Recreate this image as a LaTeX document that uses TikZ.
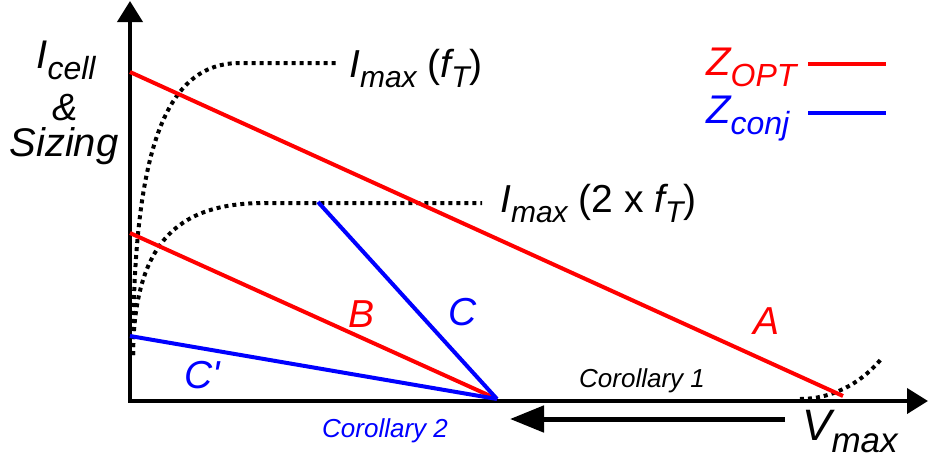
\documentclass[tikz,border=0pt]{standalone}
\usepackage{fontspec}
\setmainfont{Liberation Sans}
\usetikzlibrary{arrows.meta}
\definecolor{myred}{RGB}{255,0,0}
\definecolor{myblue}{RGB}{0,0,255}
\newcommand\fs[1]{\fontsize{#1}{#1}\selectfont}
\newcommand\lsub[2]{\raisebox{-0.28em}{\fs{#1}#2}}
\begin{document}
\begin{tikzpicture}[x=1pt,y=-1pt,
  axis/.style={line width=4pt,-{Triangle[width=25pt,length=21pt]}},
  redline/.style={myred,line width=4pt},
  blueline/.style={myblue,line width=4pt},
  dotline/.style={black,line width=4pt,dash pattern=on 4pt off 4pt},
  lbl/.style={inner sep=0pt,font=\itshape}]
\useasboundingbox (0,0) rectangle (930,459);
% axes
\coordinate (O) at (130,401);
\coordinate (Ytop) at (130,1);
\coordinate (Xend) at (928,401);
\coordinate (Xstart) at (128,401);
\draw[axis] (Xstart) -- (Xend);
\draw[axis] (O) -- (Ytop);
% dotted curves
\coordinate (d0) at (133,355);
\coordinate (d1) at (240,63);
\coordinate (d1e) at (336,63);
\coordinate (d2) at (265,203);
\coordinate (d2e) at (482,203);
\draw[dotline] (d0) .. controls (133,150) and (165,63) .. (d1) -- (d1e);
\draw[dotline] (d0) .. controls (134,235) and (185,203) .. (d2) -- (d2e);
\coordinate (r0) at (800,399);
\coordinate (r1) at (882,358);
\draw[dotline] (r0) .. controls (830,399) and (860,385) .. (r1);
% lines
\coordinate (A0) at (130,72);
\coordinate (A1) at (843,396);
\coordinate (B0) at (130,233);
\coordinate (P) at (497,399);
\coordinate (C0) at (318,202);
\coordinate (Cp0) at (130,336);
\draw[redline] (A0) -- (A1);
\draw[redline] (B0) -- (P);
\draw[blueline] (C0) -- (P);
\draw[blueline] (Cp0) -- (P);
% arrow Corollary
\coordinate (k0) at (785,419);
\coordinate (k1) at (510,419);
\draw[line width=5pt,-{Triangle[width=26pt,length=34pt]}] (k0) -- (k1);
% labels
\node[lbl,anchor=base,font=\itshape\fs{40}] (ylab1) at (66,68) {I\lsub{32}{cell}};
\node[lbl,anchor=base,font=\itshape\fs{38}] (ylab2) at (65,120) {\&};
\node[lbl,anchor=base,font=\itshape\fs{40}] (ylab3) at (64,156) {Sizing};
\node[lbl,anchor=base west,font=\fs{39}] (imax1) at (349,77) {\itshape I\lsub{30}{max}\upshape\ (\itshape f\lsub{30}{T}\upshape)};
\node[lbl,anchor=base west,font=\fs{39}] (imax2) at (500,212) {\itshape I\lsub{30}{max}\upshape\ (2 x \itshape f\lsub{30}{T}\upshape)};
\node[lbl,anchor=base west,text=myred,font=\itshape\fs{40}] (zopt) at (706,75) {Z\lsub{32}{OPT}};
\node[lbl,anchor=base west,text=myblue,font=\itshape\fs{40}] (zconj) at (706,123) {Z\lsub{32}{conj}};
\coordinate (lr0) at (808,64);
\coordinate (lr1) at (886,64);
\coordinate (lb0) at (808,113);
\coordinate (lb1) at (886,113);
\draw[redline] (lr0) -- (lr1);
\draw[blueline] (lb0) -- (lb1);
\node[lbl,anchor=base,text=myred,font=\itshape\fs{39}] (la) at (767,334) {A};
\node[lbl,anchor=base,text=myred,font=\itshape\fs{39}] (lbb) at (362,327) {B};
\node[lbl,anchor=base,text=myblue,font=\itshape\fs{39}] (lc) at (463,325) {C};
\node[lbl,anchor=base,text=myblue,font=\itshape\fs{39}] (lcp) at (202,388) {C\textquotesingle};
\node[lbl,anchor=base west,font=\itshape\fs{26}] (cor1) at (579,387) {Corollary 1};
\node[lbl,anchor=base west,text=myblue,font=\itshape\fs{26}] (cor2) at (322,437) {Corollary 2};
\node[lbl,anchor=base west,font=\itshape\fs{44}] (vmax) at (802,440) {V\lsub{35}{max}};
\end{tikzpicture}
\end{document}
